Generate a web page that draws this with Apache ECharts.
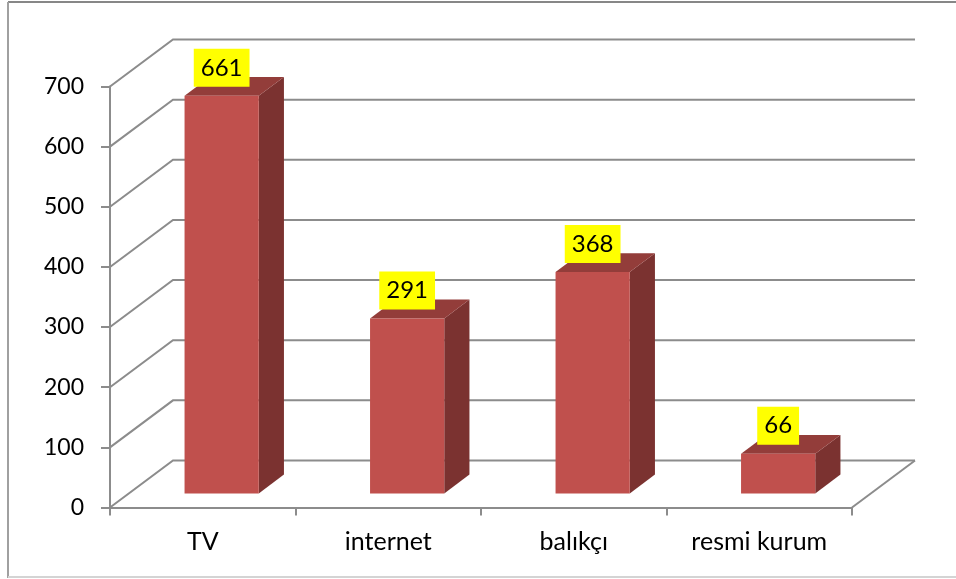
<!DOCTYPE html>
<html>
<head>
<meta charset="utf-8">
<script src="https://cdn.jsdelivr.net/npm/echarts@6/dist/echarts.min.js"></script>
<style>
  html, body { margin: 0; padding: 0; background: #fff; }
  #chart { width: 956px; height: 579px; }
</style>
</head>
<body>
<div id="chart"></div>
<script>
const categories = ['TV', 'internet', 'balıkçı', 'resmi kurum'];
const counts = [661, 291, 368, 66];
const yTicks = [0, 100, 200, 300, 400, 500, 600, 700];

// pseudo 3D depth (pixels, back wall offset)
const DX = 63, DY = -47;
const FRONT = 0.3, DEPTH = 0.4;

const chart = echarts.init(document.getElementById('chart'));

function renderWalls(params, api) {
    const cs = params.coordSys;
    const v = api.value(0);
    const y = api.coord([0, v])[1];
    const x0 = cs.x, x1 = cs.x + cs.width;
    const lineStyle = { stroke: '#8c8c8c', lineWidth: 2, fill: null };
    const children = [{
        type: 'polyline',
        shape: { points: [[x0, y], [x0 + DX, y + DY], [x1 + DX, y + DY]] },
        style: lineStyle
    }];
    if (v === 0) {
        children.push({
            type: 'line',
            shape: { x1: x1, y1: y, x2: x1 + DX, y2: y + DY },
            style: lineStyle
        });
    }
    return { type: 'group', children: children };
}

function renderBar(params, api) {
    const idx = api.value(0);
    const val = api.value(1);
    const top = api.coord([idx, val]);
    const base = api.coord([idx, 0]);
    const band = api.size([1, 0])[0];
    const w = band * 0.4;
    const xl = top[0] - w / 2 + FRONT * DX;
    const xr = xl + w;
    const yt = top[1] + FRONT * DY;
    const yb = base[1] + FRONT * DY;
    const ddx = DEPTH * DX, ddy = DEPTH * DY;
    return {
        type: 'group',
        children: [
            {
                type: 'polygon',
                shape: { points: [[xr, yt], [xr + ddx, yt + ddy], [xr + ddx, yb + ddy], [xr, yb]] },
                style: { fill: '#7b3230' }
            },
            {
                type: 'polygon',
                shape: { points: [[xl, yt], [xr, yt], [xr + ddx, yt + ddy], [xl + ddx, yt + ddy]] },
                style: { fill: '#933d3a' }
            },
            {
                type: 'rect',
                shape: { x: xl, y: yt, width: w, height: yb - yt },
                style: { fill: '#c0504d' }
            },
            {
                type: 'text',
                style: {
                    text: String(val),
                    x: (xl + xr) / 2,
                    y: yt - 9,
                    align: 'center',
                    verticalAlign: 'bottom',
                    fontFamily: 'Lato',
                    fontSize: 24,
                    lineHeight: 26,
                    fill: '#000',
                    backgroundColor: '#ffff00',
                    padding: [6, 7, 6, 7]
                }
            }
        ]
    };
}

const option = {
    backgroundColor: '#fff',
    animation: false,
    graphic: [
        { type: 'line', shape: { x1: 8, y1: 2, x2: 956, y2: 2 }, style: { stroke: '#878787', lineWidth: 2 } },
        { type: 'line', shape: { x1: 8, y1: 2, x2: 8, y2: 578 }, style: { stroke: '#a0a0a0', lineWidth: 2 } },
        { type: 'line', shape: { x1: 8, y1: 577, x2: 956, y2: 577 }, style: { stroke: '#d4d4d4', lineWidth: 2 } }
    ],
    grid: { left: 110, top: 86.5, width: 742, height: 421 },
    xAxis: {
        type: 'category',
        data: categories,
        axisLine: { lineStyle: { color: '#8c8c8c', width: 2 } },
        axisTick: { show: true, length: 8, lineStyle: { color: '#8c8c8c', width: 2 } },
        axisLabel: { color: '#000', fontFamily: 'Lato', fontSize: 25, margin: 22 },
        splitLine: { show: false }
    },
    yAxis: {
        type: 'value',
        min: 0,
        max: 700,
        interval: 100,
        axisLine: { show: true, lineStyle: { color: '#8c8c8c', width: 2 } },
        axisTick: { show: true, length: 9, lineStyle: { color: '#8c8c8c', width: 2 } },
        axisLabel: { color: '#000', fontFamily: 'Lato', fontSize: 23, margin: 26 },
        splitLine: { show: false }
    },
    series: [
        {
            type: 'custom',
            z: 1,
            renderItem: renderWalls,
            data: yTicks.map(v => [v]),
            encode: { y: 0 },
            silent: true
        },
        {
            type: 'custom',
            z: 3,
            renderItem: renderBar,
            data: counts.map((c, i) => [i, c]),
            encode: { x: 0, y: 1 }
        }
    ]
};

chart.setOption(option);
</script>
</body>
</html>
